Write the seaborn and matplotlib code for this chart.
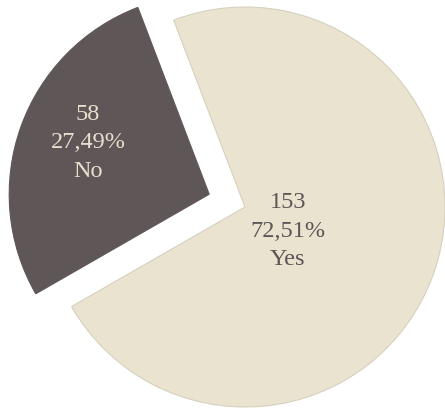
import matplotlib
matplotlib.use("Agg")
import matplotlib.pyplot as plt
import seaborn as sns
import numpy as np

# Survey answers
categories = ["Yes", "No"]
counts = [153, 58]

slice_colors = ["#E9E3D0", "#5F5757"]
text_colors = ["#5A5655", "#E6E0CE"]
explode = [0.0, 0.19]
label_dist = [0.246, 0.658]
label_turn = [-9.6, -3.3]   # degrees away from each slice's mid-angle

sns.set_theme(style="white")
plt.rcParams["font.family"] = ["Liberation Serif", "DejaVu Serif"]

fig = plt.figure(figsize=(4.45, 4.09), dpi=100)
ax = fig.add_axes([0, 0, 1, 1])

total = sum(counts)
wedges, _ = ax.pie(
    counts,
    colors=slice_colors,
    explode=explode,
    startangle=110.9,
    counterclock=False,
    radius=1.0,
    wedgeprops=dict(linewidth=0.8),
)
wedges[0].set_edgecolor("#D6D0BE")
wedges[1].set_edgecolor(slice_colors[1])

# value / share / category inside each slice
for w, cat, n, col, d, turn in zip(wedges, categories, counts, text_colors,
                                   label_dist, label_turn):
    ang = np.deg2rad((w.theta1 + w.theta2) / 2.0 + turn)
    cx, cy = w.center
    x = cx + d * w.r * np.cos(ang)
    y = cy + d * w.r * np.sin(ang)
    pct = f"{100.0 * n / total:.2f}".replace(".", ",")
    ax.text(x, y, f"{n}\n{pct}%\n{cat}", ha="center", va="center",
            color=col, fontsize=17.5, linespacing=1.45)

ax.set_aspect("auto")
ax.set_xlim(-1.225, 1.0)
ax.set_ylim(-1.01, 1.035)
ax.axis("off")

fig.savefig("out.png", dpi=100, facecolor="white")
